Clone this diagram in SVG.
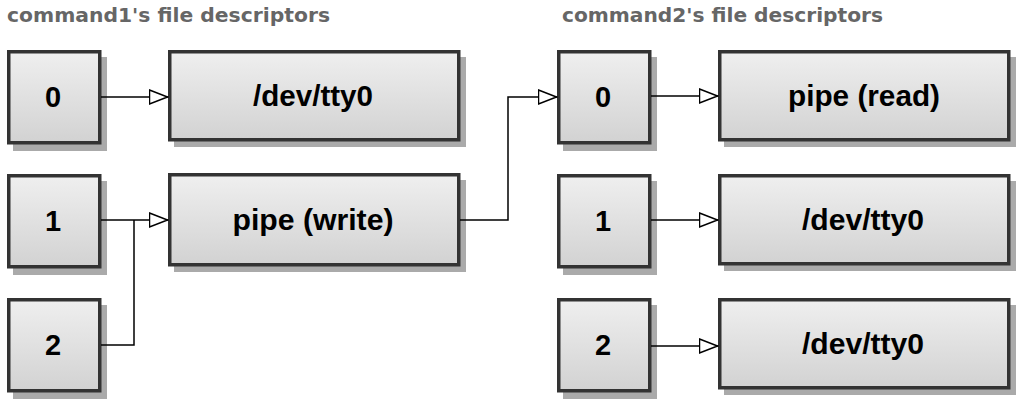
<svg xmlns="http://www.w3.org/2000/svg" width="1024" height="403" viewBox="0 0 1024 403">
<defs>
  <linearGradient id="g" x1="0" y1="0" x2="0" y2="1">
    <stop offset="0" stop-color="#efefef"/>
    <stop offset="1" stop-color="#d2d2d2"/>
  </linearGradient>
  <marker id="arr" viewBox="0 0 20 16" refX="19.5" refY="8" markerWidth="20" markerHeight="16" markerUnits="userSpaceOnUse" orient="auto">
    <path d="M1,1 L19,8 L1,15 Z" fill="#fff" stroke="#000" stroke-width="1.5"/>
  </marker>
</defs>
<style>
  .title{font-family:"DejaVu Sans",Verdana,sans-serif;font-weight:bold;font-size:19.5px;fill:#666}
  .shadow{fill:#aaaaaa}
  .box{fill:url(#g);stroke:#333;stroke-width:3.5}
  .lbl{font-family:"Liberation Sans",Arial,sans-serif;font-weight:bold;font-size:29px;fill:#000;text-anchor:middle}
  .con{fill:none;stroke:#000;stroke-width:1.5}
</style>
<rect width="1024" height="403" fill="#fff"/>
<text class="title" x="7" y="22" textLength="323" lengthAdjust="spacingAndGlyphs">command1's file descriptors</text>
<text class="title" x="562" y="22" textLength="321" lengthAdjust="spacingAndGlyphs">command2's file descriptors</text>

<g id="c1-fd0"><rect class="shadow" x="13" y="57" width="94" height="94"/><rect class="box" x="8.75" y="51.75" width="91" height="91"/><text class="lbl" x="53" y="107">0</text></g>
<g id="c1-fd1"><rect class="shadow" x="13" y="181" width="94" height="94"/><rect class="box" x="8.75" y="175.75" width="91" height="91"/><text class="lbl" x="53" y="231">1</text></g>
<g id="c1-fd2"><rect class="shadow" x="13" y="305" width="94" height="94"/><rect class="box" x="8.75" y="299.75" width="91" height="91"/><text class="lbl" x="53" y="355">2</text></g>

<g id="c1-tty0"><rect class="shadow" x="174" y="57" width="292" height="90"/><rect class="box" x="169.75" y="51.75" width="289" height="88"/><text class="lbl" x="313" y="106" textLength="120" lengthAdjust="spacingAndGlyphs">/dev/tty0</text></g>
<g id="pipe-write"><rect class="shadow" x="174" y="180" width="292" height="92"/><rect class="box" x="169.75" y="174.75" width="289" height="90"/><text class="lbl" x="313" y="230" textLength="161" lengthAdjust="spacingAndGlyphs">pipe (write)</text></g>

<g id="c2-fd0"><rect class="shadow" x="563" y="57" width="94" height="94"/><rect class="box" x="558.75" y="51.75" width="91" height="91"/><text class="lbl" x="603" y="107">0</text></g>
<g id="c2-fd1"><rect class="shadow" x="563" y="181" width="94" height="94"/><rect class="box" x="558.75" y="175.75" width="91" height="91"/><text class="lbl" x="603" y="231">1</text></g>
<g id="c2-fd2"><rect class="shadow" x="563" y="305" width="94" height="94"/><rect class="box" x="558.75" y="299.75" width="91" height="91"/><text class="lbl" x="603" y="355">2</text></g>

<g id="pipe-read"><rect class="shadow" x="724" y="57" width="292" height="90"/><rect class="box" x="719.75" y="51.75" width="289" height="88"/><text class="lbl" x="864" y="106" textLength="152" lengthAdjust="spacingAndGlyphs">pipe (read)</text></g>
<g id="c2-tty0-1"><rect class="shadow" x="724" y="181" width="292" height="90"/><rect class="box" x="719.75" y="175.75" width="289" height="88"/><text class="lbl" x="863" y="230" textLength="122" lengthAdjust="spacingAndGlyphs">/dev/tty0</text></g>
<g id="c2-tty0-2"><rect class="shadow" x="724" y="305" width="292" height="90"/><rect class="box" x="719.75" y="299.75" width="289" height="88"/><text class="lbl" x="863" y="354" textLength="122" lengthAdjust="spacingAndGlyphs">/dev/tty0</text></g>

<g id="connectors">
  <path class="con" d="M101,97 H168" marker-end="url(#arr)"/>
  <path class="con" d="M101,220 H168" marker-end="url(#arr)"/>
  <path class="con" d="M101,345 H134 V220"/>
  <path class="con" d="M460,220 H508 V97 H557" marker-end="url(#arr)"/>
  <path class="con" d="M651,96 H718" marker-end="url(#arr)"/>
  <path class="con" d="M651,220 H718" marker-end="url(#arr)"/>
  <path class="con" d="M651,346 H718" marker-end="url(#arr)"/>
</g>
</svg>
